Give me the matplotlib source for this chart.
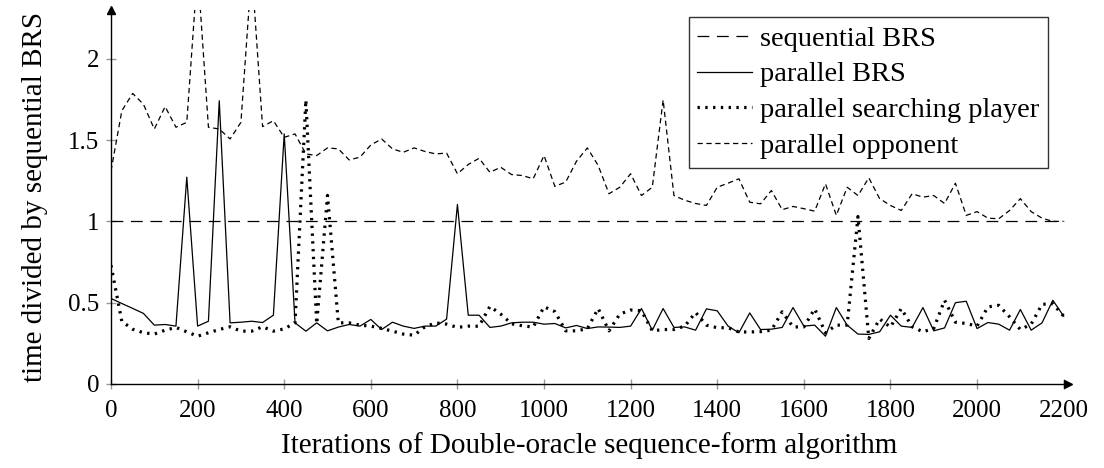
import matplotlib
matplotlib.use("Agg")
import matplotlib.pyplot as plt
import numpy as np

plt.rcParams["font.family"] = ["Liberation Serif", "DejaVu Serif"]
plt.rcParams["lines.scale_dashes"] = False

# iterations (every 25)
iterations = list(range(0, 2201, 25))

seq_x = [0, 2200]
seq_brs = [1.0, 1.0]

par_brs = [
    0.526, 0.495, 0.465, 0.434, 0.362, 0.366, 0.356, 1.272, 0.356, 0.386,
    1.742, 0.376, 0.38, 0.386, 0.378, 0.423, 1.538, 0.376, 0.325, 0.376,
    0.327, 0.35, 0.366, 0.356, 0.397, 0.335, 0.38, 0.356, 0.342, 0.356,
    0.356, 0.399, 1.104, 0.423, 0.423, 0.348, 0.356, 0.376, 0.38, 0.38,
    0.368, 0.372, 0.345, 0.36, 0.341, 0.351, 0.35, 0.348, 0.356, 0.464,
    0.331, 0.464, 0.348, 0.351, 0.331, 0.462, 0.45, 0.356, 0.315, 0.437,
    0.335, 0.337, 0.348, 0.47, 0.356, 0.362, 0.294, 0.47, 0.362, 0.307,
    0.305, 0.321, 0.423, 0.356, 0.348, 0.47, 0.327, 0.345, 0.5, 0.509,
    0.341, 0.378, 0.368, 0.331, 0.458, 0.331, 0.376, 0.515, 0.417,
]

par_player = [
    0.73, 0.385, 0.337, 0.315, 0.307, 0.331, 0.348, 0.321, 0.294, 0.315,
    0.335, 0.352, 0.325, 0.325, 0.352, 0.325, 0.339, 0.376, 1.747, 0.37,
    1.16, 0.376, 0.376, 0.362, 0.356, 0.342, 0.325, 0.307, 0.3, 0.352,
    0.376, 0.368, 0.348, 0.356, 0.355, 0.477, 0.43, 0.37, 0.358, 0.35,
    0.475, 0.445, 0.327, 0.327, 0.34, 0.464, 0.327, 0.43, 0.455, 0.45,
    0.327, 0.335, 0.335, 0.356, 0.44, 0.362, 0.346, 0.346, 0.32, 0.32,
    0.322, 0.331, 0.444, 0.351, 0.351, 0.462, 0.315, 0.362, 0.362, 1.03,
    0.28, 0.40, 0.35, 0.464, 0.352, 0.321, 0.342, 0.515, 0.38, 0.372,
    0.356, 0.474, 0.484, 0.413, 0.335, 0.368, 0.49, 0.494, 0.417,
]

par_opponent = [
    1.31, 1.68, 1.787, 1.72, 1.568, 1.706, 1.579, 1.609, 2.55, 1.579,
    1.568, 1.507, 1.609, 2.55, 1.583, 1.619, 1.517, 1.538, 1.415, 1.405,
    1.452, 1.446, 1.378, 1.395, 1.47, 1.507, 1.446, 1.425, 1.452, 1.43,
    1.415, 1.42, 1.293, 1.35, 1.388, 1.302, 1.333, 1.288, 1.282, 1.262,
    1.405, 1.215, 1.242, 1.37, 1.452, 1.344, 1.17, 1.21, 1.293, 1.159,
    1.21, 1.747, 1.159, 1.13, 1.11, 1.098, 1.21, 1.235, 1.262, 1.118,
    1.108, 1.19, 1.072, 1.092, 1.078, 1.063, 1.231, 1.037, 1.21, 1.159,
    1.268, 1.14, 1.098, 1.067, 1.17, 1.149, 1.159, 1.11, 1.235, 1.037,
    1.06, 1.02, 1.016, 1.067, 1.14, 1.06, 1.02, 1.0, 1.0,
]

fig = plt.figure(figsize=(11.04, 4.68), dpi=100)
ax = fig.add_axes([111 / 1104, 84 / 468, 957 / 1104, 374 / 468])

ax.plot(seq_x, seq_brs, color="black", lw=0.9, dashes=(8.5, 5.5), label="sequential BRS")
ax.plot(iterations, par_brs, color="black", lw=0.9, label="parallel BRS")
ax.plot(iterations, par_player, color="black", lw=2.3, dashes=(1.7, 3.9),
        dash_capstyle="butt", label="parallel searching player")
ax.plot(iterations, par_opponent, color="black", lw=0.9, dashes=(3.8, 2.6), label="parallel opponent")

ax.set_xlim(0, 2210)
ax.set_ylim(0, 2.3)
ax.set_xticks(range(0, 2201, 200))
ax.set_yticks([0, 0.5, 1, 1.5, 2])
ax.set_yticklabels(["0", "0.5", "1", "1.5", "2"])
ax.tick_params(direction="inout", length=7, width=1, color="#999999", labelsize=18)
ax.tick_params(axis="x", pad=8)
ax.tick_params(axis="y", pad=5)

ax.spines[["top", "right"]].set_visible(False)
ax.spines["left"].set_linewidth(1.0)
ax.spines["bottom"].set_linewidth(1.0)
ax.plot(1, 0, ">k", ms=6, transform=ax.transAxes, clip_on=False)
ax.plot(0, 1, "^k", ms=6, transform=ax.transAxes, clip_on=False)

ax.set_xlabel("Iterations of Double-oracle sequence-form algorithm", fontsize=21, labelpad=7)
ax.set_ylabel("time divided by sequential BRS", fontsize=21, labelpad=14)

leg = ax.legend(loc="upper right", bbox_to_anchor=(0.979, 0.981), borderaxespad=0,
                fontsize=20.5, frameon=True, fancybox=False, handlelength=1.9,
                handletextpad=0.3, labelspacing=0.35, borderpad=0.3)
leg.get_frame().set_edgecolor("black")
leg.get_frame().set_linewidth(1.0)

fig.savefig("out.png", dpi=100)
